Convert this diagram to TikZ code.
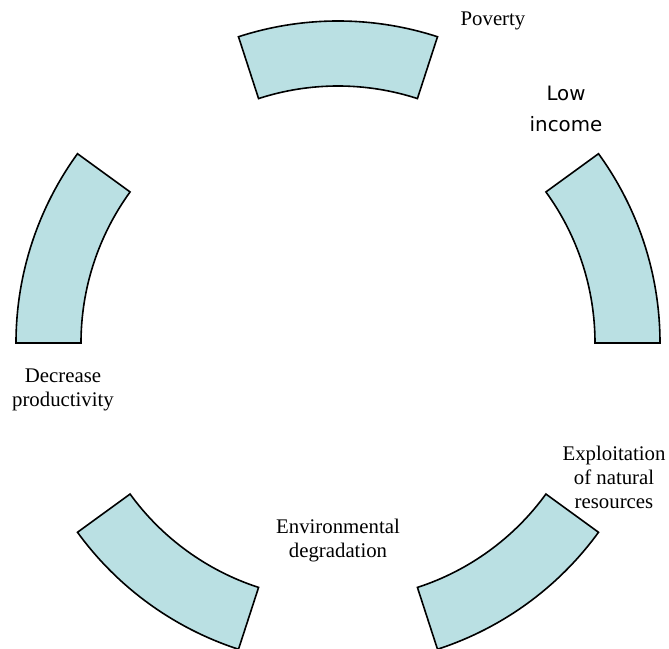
\documentclass[tikz,border=0pt]{standalone}
\usepackage{fontspec}
\setmainfont{Liberation Serif}
\newfontfamily\lowfont{DejaVu Sans}
\definecolor{segfill}{RGB}{186,224,227}
\begin{document}
\begin{tikzpicture}[
  seg/.style={fill=segfill,draw=black,line width=1.6pt,line join=miter},
  lbl/.style={align=center,font=\fontsize{20.8}{24}\selectfont,inner sep=0pt},
  sanslbl/.style={align=center,font=\lowfont\fontsize{19.8}{31}\selectfont,inner sep=0pt}]
\useasboundingbox (-338pt,-305pt) rectangle (331pt,343pt);
\foreach \a in {0,72,144,216,288} {
  \draw[seg] (\a:257pt) -- (\a:322pt) arc[start angle=\a, delta angle=36, radius=322pt]
    -- ({\a+36}:257pt) arc[start angle=\a+36, delta angle=-36, radius=257pt] -- cycle;
}
\node[lbl] (poverty) at (155pt,322pt) {Poverty};
\node[sanslbl] (lowincome) at (228pt,234pt) {Low\\income};
\node[lbl] (decrease) at (-275pt,-47pt) {Decrease\\productivity};
\node[lbl] (exploit) at (276pt,-134pt) {Exploitation\\of natural\\resources};
\node[lbl] (envdeg) at (0pt,-198pt) {Environmental\\degradation};
\end{tikzpicture}
\end{document}
